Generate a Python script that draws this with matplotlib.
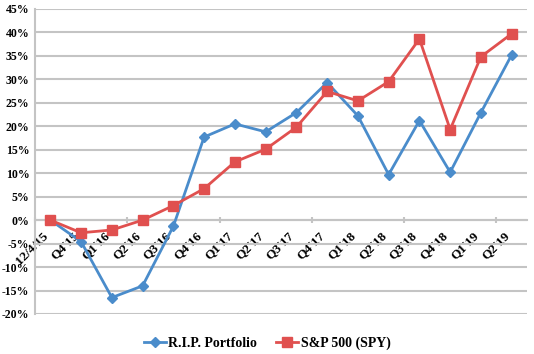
import matplotlib.pyplot as plt
from matplotlib.ticker import FuncFormatter, FixedLocator

# data
periods = ["12/4/15", "Q4'15", "Q1'16", "Q2'16", "Q3'16", "Q4'16",
           "Q1'17", "Q2'17", "Q3'17", "Q4'17", "Q1'18", "Q2'18",
           "Q3'18", "Q4'18", "Q1'19", "Q2'19"]
rip = [0, -4.6, -16.5, -14.0, -1.3, 17.7, 20.5, 18.8, 22.9, 29.3,
       22.2, 9.7, 21.2, 10.2, 22.9, 35.2]
spy = [0, -2.7, -2.1, 0, 3.1, 6.7, 12.4, 15.1, 19.8, 27.4,
       25.4, 29.5, 38.6, 19.3, 34.8, 39.7]

plt.rcParams['font.family'] = ['Liberation Serif', 'DejaVu Serif']
plt.rcParams['font.weight'] = 'bold'

fig = plt.figure(figsize=(5.34, 3.54), dpi=100)
ax = fig.add_axes([0.0655, 0.113, 0.9215, 0.862])

x = list(range(len(periods)))
ax.plot(x, rip, color='#4A8CCB', lw=2, marker='D', ms=5,
        label='R.I.P. Portfolio', zorder=3)
ax.plot(x, spy, color='#E0504F', lw=2, marker='s', ms=7,
        label='S&P 500 (SPY)', zorder=3)

ax.set_xlim(-0.5, len(periods) - 0.5)
ax.set_ylim(-20, 45)
ax.set_yticks(range(-20, 46, 5))
ax.yaxis.set_major_formatter(FuncFormatter(lambda v, p: f"{int(v)}%"))
ax.grid(axis='y', color='#C4C4C4', lw=1.5)
ax.set_axisbelow(True)

# category axis crossing at 0
ax.spines['bottom'].set_position(('data', 0))
ax.spines['bottom'].set_color('#C4C4C4')
ax.spines['bottom'].set_linewidth(1.5)
ax.spines['left'].set_color('#C4C4C4')
ax.spines['left'].set_linewidth(1.5)
ax.spines['top'].set_visible(False)
ax.spines['right'].set_visible(False)

ax.set_xticks(x)
ax.set_xticklabels(periods, rotation=45, ha='right', fontsize=9.5,
                   fontweight='bold')
ax.tick_params(axis='x', length=0, pad=7)
ax.xaxis.set_minor_locator(FixedLocator([-0.5 + k for k in range(0, 17, 3)]))
ax.tick_params(axis='x', which='minor', length=4, color='#C4C4C4',
               width=1.5, direction='inout')
ax.tick_params(axis='y', length=0, labelsize=8.5, pad=4)
for t in ax.get_yticklabels():
    t.set_fontweight('bold')

ax.legend(loc='upper center', bbox_to_anchor=(0.5, 0.085), ncol=2,
          bbox_transform=fig.transFigure,
          frameon=False, prop={'size': 10, 'weight': 'bold'},
          handlelength=1.6, handletextpad=0.15, columnspacing=1.4)

fig.savefig('out.png', dpi=100)
